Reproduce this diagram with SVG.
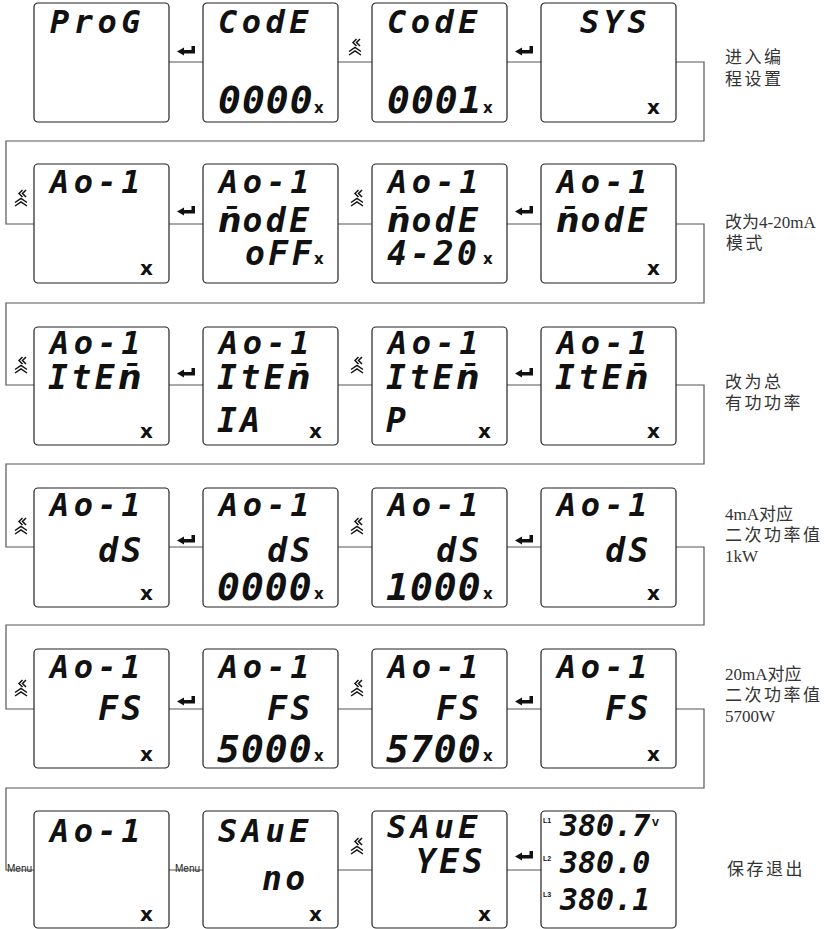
<svg xmlns="http://www.w3.org/2000/svg" xmlns:xlink="http://www.w3.org/1999/xlink" width="833" height="929" viewBox="0 0 833 929">
<style>
.box{fill:#fff;stroke:#222;stroke-width:1.2}
.conn{fill:none;stroke:#555;stroke-width:1.2}
.lcd{font-family:"DejaVu Sans Mono",monospace;font-weight:bold;font-style:oblique;fill:#111}
.t1{font-size:32px;letter-spacing:4.5px}
.t2{font-size:33px;letter-spacing:3.5px}
.big{font-size:38px;letter-spacing:1px}
.nm{font-family:"DejaVu Sans",sans-serif;letter-spacing:0}
.end{text-anchor:end}
.mk{font-family:"DejaVu Sans",sans-serif;font-weight:bold;font-size:20px;fill:#111}
.mks{font-family:"DejaVu Sans",sans-serif;font-weight:bold;font-size:15px;fill:#111}
.menu{font-family:"Liberation Sans",Arial,sans-serif;font-size:10px;fill:#222}
.lab{font-family:"Liberation Serif","Noto Sans CJK SC",serif;font-size:17px;fill:#333}
.cj{letter-spacing:2.5px}
.tiny{font-family:"Liberation Sans",sans-serif;font-weight:bold;font-size:7px;fill:#111}
.vv{font-family:"DejaVu Sans",sans-serif;font-weight:bold;font-size:9px;fill:#111}
.rd{font-family:"DejaVu Sans Mono",monospace;font-weight:bold;font-style:oblique;font-size:30px;fill:#111}
.ic{fill:none;stroke:#111;stroke-width:1.5}
</style>
<defs>
<path id="enter" d="M0,5.5 L7,1.5 L7,4 L14.5,4 L14.5,0 L18,0 L18,7.5 L7,7.5 L7,9.5 Z" fill="#111"/>
<g id="chev">
<path class="ic" d="M1.5,0 L-2,3.5 L1.5,7 M5,0 L1.5,3.5 L5,7"/>
<path class="ic" d="M-6,12.5 L0,8.5 L6,12.5 M-6,16 L0,12 L6,16"/>
</g>
</defs>

<g id="connectors">
<path class="conn" d="M169,62 H203 M338,62 H372 M507,62 H541 M676,62 H704 V141 H6 V224 H34"/>
<path class="conn" d="M169,224 H203 M338,224 H372 M507,224 H541 M676,224 H704 V303 H6 V385 H34"/>
<path class="conn" d="M169,385 H203 M338,385 H372 M507,385 H541 M676,385 H704 V464 H6 V547 H34"/>
<path class="conn" d="M169,547 H203 M338,547 H372 M507,547 H541 M676,547 H704 V625 H6 V709 H34"/>
<path class="conn" d="M169,709 H203 M338,709 H372 M507,709 H541 M676,709 H704 V788 H6 V870 H34"/>
<path class="conn" d="M169,870 H203 M338,870 H372 M507,870 H541"/>
<use xlink:href="#enter" x="177" y="46"/>
<use xlink:href="#chev" x="355" y="39"/>
<use xlink:href="#enter" x="515" y="46"/>

<use xlink:href="#chev" x="21" y="190"/>
<use xlink:href="#enter" x="177" y="206"/>
<use xlink:href="#chev" x="357" y="190"/>
<use xlink:href="#enter" x="515" y="206"/>

<use xlink:href="#chev" x="21" y="357"/>
<use xlink:href="#enter" x="177" y="368"/>
<use xlink:href="#chev" x="357" y="357"/>
<use xlink:href="#enter" x="515" y="368"/>

<use xlink:href="#chev" x="21" y="518"/>
<use xlink:href="#enter" x="177" y="535"/>
<use xlink:href="#chev" x="357" y="518"/>
<use xlink:href="#enter" x="515" y="535"/>

<use xlink:href="#chev" x="21" y="680"/>
<use xlink:href="#enter" x="177" y="696"/>
<use xlink:href="#chev" x="357" y="680"/>
<use xlink:href="#enter" x="515" y="696"/>

<text class="menu" x="7" y="872">Menu</text>
<text class="menu" x="175" y="872">Menu</text>
<use xlink:href="#chev" x="357" y="838"/>
<use xlink:href="#enter" x="515" y="851"/>
</g>

<!-- Row 1 -->
<g id="r1b1"><rect class="box" x="34" y="3" width="135" height="119" rx="4"/>
<text class="lcd t1" x="50" y="33">ProG</text></g>
<g id="r1b2"><rect class="box" x="203" y="3" width="135" height="119" rx="4"/>
<text class="lcd t1" x="218" y="33">CodE</text>
<text class="lcd big" x="218" y="113">0000</text><text class="mks" x="314" y="113">x</text></g>
<g id="r1b3"><rect class="box" x="372" y="3" width="135" height="119" rx="4"/>
<text class="lcd t1" x="387" y="33">CodE</text>
<text class="lcd big" x="387" y="113">0001</text><text class="mks" x="483" y="113">x</text></g>
<g id="r1b4"><rect class="box" x="541" y="3" width="135" height="119" rx="4"/>
<text class="lcd t1" x="580" y="33">SYS</text>
<text class="mk" x="647" y="114">x</text></g>

<!-- Row 2 -->
<g id="r2b1"><rect class="box" x="34" y="164" width="135" height="119" rx="4"/>
<text class="lcd t1" x="50" y="193">Ao-1</text>
<text class="mk" x="140" y="275">x</text></g>
<g id="r2b2"><rect class="box" x="203" y="164" width="135" height="119" rx="4"/>
<text class="lcd t1" x="219" y="193">Ao-1</text>
<text class="lcd t2" x="218" y="232"><tspan class="nm">n̄</tspan><tspan dx="1">odE</tspan></text>
<text class="lcd t2 end" x="315" y="265">oFF</text><text class="mks" x="314" y="264">x</text></g>
<g id="r2b3"><rect class="box" x="372" y="164" width="135" height="119" rx="4"/>
<text class="lcd t1" x="388" y="193">Ao-1</text>
<text class="lcd t2" x="387" y="232"><tspan class="nm">n̄</tspan><tspan dx="1">odE</tspan></text>
<text class="lcd t2" x="387" y="265">4-20</text><text class="mks" x="483" y="264">x</text></g>
<g id="r2b4"><rect class="box" x="541" y="164" width="135" height="119" rx="4"/>
<text class="lcd t1" x="557" y="193">Ao-1</text>
<text class="lcd t2" x="556" y="232"><tspan class="nm">n̄</tspan><tspan dx="1">odE</tspan></text>
<text class="mk" x="647" y="275">x</text></g>

<!-- Row 3 -->
<g id="r3b1"><rect class="box" x="34" y="327" width="135" height="118" rx="4"/>
<text class="lcd t1" x="50" y="354">Ao-1</text>
<text class="lcd t2" x="48" y="389">ItE<tspan class="nm">n̄</tspan></text>
<text class="mk" x="140" y="438">x</text></g>
<g id="r3b2"><rect class="box" x="203" y="327" width="135" height="118" rx="4"/>
<text class="lcd t1" x="219" y="354">Ao-1</text>
<text class="lcd t2" x="217" y="389">ItE<tspan class="nm">n̄</tspan></text>
<text class="lcd t2" x="217" y="432">IA</text>
<text class="mk" x="309" y="438">x</text></g>
<g id="r3b3"><rect class="box" x="372" y="327" width="135" height="118" rx="4"/>
<text class="lcd t1" x="388" y="354">Ao-1</text>
<text class="lcd t2" x="386" y="389">ItE<tspan class="nm">n̄</tspan></text>
<text class="lcd t2" x="386" y="432">P</text>
<text class="mk" x="478" y="438">x</text></g>
<g id="r3b4"><rect class="box" x="541" y="327" width="135" height="118" rx="4"/>
<text class="lcd t1" x="557" y="354">Ao-1</text>
<text class="lcd t2" x="555" y="389">ItE<tspan class="nm">n̄</tspan></text>
<text class="mk" x="647" y="438">x</text></g>

<!-- Row 4 -->
<g id="r4b1"><rect class="box" x="34" y="488" width="135" height="119" rx="4"/>
<text class="lcd t1" x="50" y="516">Ao-1</text>
<text class="lcd t2 end" x="145" y="562">dS</text>
<text class="mk" x="140" y="600">x</text></g>
<g id="r4b2"><rect class="box" x="203" y="488" width="135" height="119" rx="4"/>
<text class="lcd t1" x="219" y="516">Ao-1</text>
<text class="lcd t2 end" x="314" y="562">dS</text>
<text class="lcd big" x="217" y="600">0000</text><text class="mks" x="314" y="599">x</text></g>
<g id="r4b3"><rect class="box" x="372" y="488" width="135" height="119" rx="4"/>
<text class="lcd t1" x="388" y="516">Ao-1</text>
<text class="lcd t2 end" x="483" y="562">dS</text>
<text class="lcd big" x="386" y="600">1000</text><text class="mks" x="483" y="599">x</text></g>
<g id="r4b4"><rect class="box" x="541" y="488" width="135" height="119" rx="4"/>
<text class="lcd t1" x="557" y="516">Ao-1</text>
<text class="lcd t2 end" x="652" y="562">dS</text>
<text class="mk" x="647" y="600">x</text></g>

<!-- Row 5 -->
<g id="r5b1"><rect class="box" x="34" y="649" width="135" height="119" rx="4"/>
<text class="lcd t1" x="50" y="678">Ao-1</text>
<text class="lcd t2 end" x="145" y="720">FS</text>
<text class="mk" x="140" y="761">x</text></g>
<g id="r5b2"><rect class="box" x="203" y="649" width="135" height="119" rx="4"/>
<text class="lcd t1" x="219" y="678">Ao-1</text>
<text class="lcd t2 end" x="314" y="720">FS</text>
<text class="lcd big" x="217" y="762">5000</text><text class="mks" x="314" y="761">x</text></g>
<g id="r5b3"><rect class="box" x="372" y="649" width="135" height="119" rx="4"/>
<text class="lcd t1" x="388" y="678">Ao-1</text>
<text class="lcd t2 end" x="483" y="720">FS</text>
<text class="lcd big" x="386" y="762">5700</text><text class="mks" x="483" y="761">x</text></g>
<g id="r5b4"><rect class="box" x="541" y="649" width="135" height="119" rx="4"/>
<text class="lcd t1" x="557" y="678">Ao-1</text>
<text class="lcd t2 end" x="652" y="720">FS</text>
<text class="mk" x="647" y="761">x</text></g>

<!-- Row 6 -->
<g id="r6b1"><rect class="box" x="34" y="811" width="135" height="117" rx="4"/>
<text class="lcd t1" x="50" y="842">Ao-1</text>
<text class="mk" x="140" y="921">x</text></g>
<g id="r6b2"><rect class="box" x="203" y="811" width="135" height="117" rx="4"/>
<text class="lcd t1" x="218" y="842">SAuE</text>
<text class="lcd t2" x="262" y="890">no</text>
<text class="mk" x="309" y="921">x</text></g>
<g id="r6b3"><rect class="box" x="372" y="811" width="135" height="117" rx="4"/>
<text class="lcd t1" x="387" y="838">SAuE</text>
<text class="lcd t2" x="416" y="873">YES</text>
<text class="mk" x="478" y="921">x</text></g>
<g id="r6b4"><rect class="box" x="541" y="811" width="135" height="117" rx="4"/>
<text class="tiny" x="543" y="823">L1</text>
<text class="rd" x="560" y="836">380.7</text><text class="vv" x="652" y="826">V</text>
<text class="tiny" x="543" y="861">L2</text>
<text class="rd" x="560" y="873">380.0</text>
<text class="tiny" x="543" y="897">L3</text>
<text class="rd" x="560" y="910">380.1</text></g>

<!-- Notes -->
<g id="notes">
<text class="lab cj" x="725" y="63">进入编</text>
<text class="lab cj" x="725" y="85">程设置</text>
<text class="lab" x="725" y="228">改为4-20mA</text>
<text class="lab cj" x="726" y="249">模式</text>
<text class="lab cj" x="725" y="388">改为总</text>
<text class="lab cj" x="725" y="409">有功功率</text>
<text class="lab" x="725" y="520">4mA对应</text>
<text class="lab cj" x="725" y="541">二次功率值</text>
<text class="lab" x="725" y="562">1kW</text>
<text class="lab" x="725" y="680">20mA对应</text>
<text class="lab cj" x="725" y="701">二次功率值</text>
<text class="lab" x="725" y="722">5700W</text>
<text class="lab cj" x="727" y="875">保存退出</text>
</g>
</svg>
